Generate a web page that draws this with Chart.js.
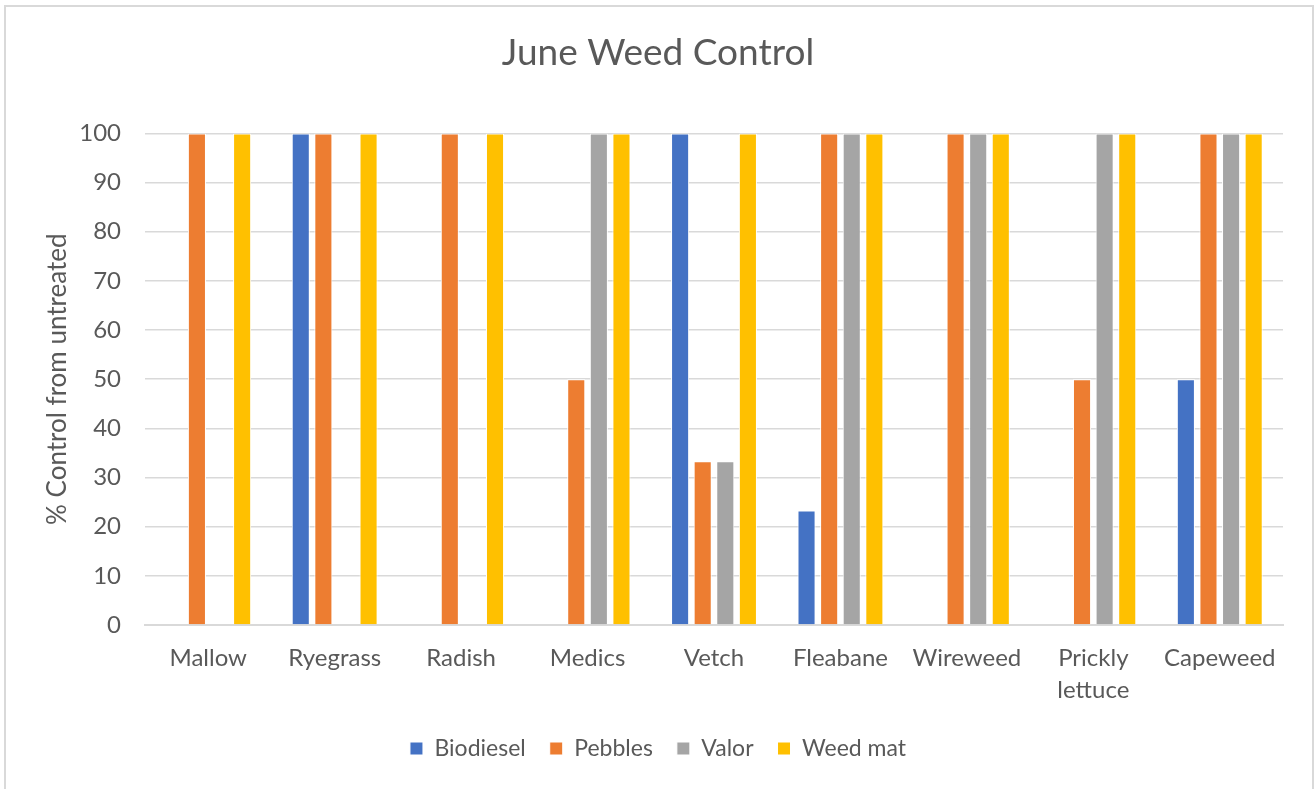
<!DOCTYPE html>
<html><head><meta charset="utf-8">
<script src="https://cdn.jsdelivr.net/npm/chart.js@4.4.0/dist/chart.umd.min.js"></script>
<style>html,body{margin:0;padding:0;background:#fff;}#wrap{width:1316px;height:789px;}</style>
</head><body><div id="wrap"><canvas id="c" width="1316" height="789"></canvas></div>
<script>
const categories = ["Mallow","Ryegrass","Radish","Medics","Vetch","Fleabane","Wireweed",["Prickly","lettuce"],"Capeweed"];
const biodiesel = [0,100,0,0,100,23.3,0,0,50];
const pebbles   = [100,100,100,50,33.3,100,100,50,100];
const valor     = [0,0,0,100,33.3,100,100,100,100];
const weedMat   = [100,100,100,100,100,100,100,100,100];
const yTicks = [0,10,20,30,40,50,60,70,80,90,100];

const FONT = "Lato, 'Open Sans', sans-serif";
const TXT = '#595959';

const frame = {
  id:'frame',
  beforeDraw(chart){
    const ctx = chart.ctx;
    ctx.save();
    ctx.fillStyle='#fff';
    ctx.fillRect(0,0,chart.width,chart.height);
    ctx.strokeStyle='#d9d9d9';
    ctx.lineWidth=2;
    ctx.beginPath();
    ctx.moveTo(5,800);ctx.lineTo(5,6);ctx.lineTo(1313,6);ctx.lineTo(1313,800);
    ctx.stroke();
    ctx.restore();
  }
};

function ds(label,data,color){
  return {label,data,backgroundColor:color,borderColor:'#ffffff',borderWidth:1,
    categoryPercentage:0.715,barPercentage:0.8};
}

new Chart(document.getElementById('c'),{
  type:'bar',
  data:{labels:categories,datasets:[
    ds('Biodiesel',biodiesel,'#4472C4'),
    ds('Pebbles',pebbles,'#ED7D31'),
    ds('Valor',valor,'#A5A5A5'),
    ds('Weed mat',weedMat,'#FFC000')
  ]},
  plugins:[frame],
  options:{
    responsive:false,animation:false,
    layout:{padding:{left:33,right:33,top:12,bottom:19}},
    plugins:{
      title:{display:true,text:'June Weed Control',color:TXT,
        font:{family:FONT,size:37,weight:'normal'},padding:{top:19,bottom:58}},
      legend:{position:'bottom',
        labels:{color:TXT,font:{family:FONT,size:23},boxWidth:13,boxHeight:13,padding:24,useBorderRadius:false}},
      tooltip:{enabled:false}
    },
    scales:{
      x:{grid:{display:false},border:{color:'#d9d9d9',width:2},
        afterFit(s){s.height=88;},
        ticks:{color:TXT,font:{family:FONT,size:24,lineHeight:1.3},padding:10,maxRotation:0,autoSkip:false}},
      y:{min:0,max:100,
        afterFit(s){s.width=112;},
        afterBuildTicks(s){s.ticks=yTicks.map(v=>({value:v}));},
        grid:{color:'#d9d9d9',lineWidth:1.5,drawTicks:false},
        border:{display:false},
        ticks:{color:TXT,font:{family:FONT,size:24},padding:24},
        title:{display:true,text:'% Control from untreated',color:TXT,font:{family:FONT,size:26},padding:{top:9,bottom:0}}
      }
    }
  }
});
</script></body></html>
